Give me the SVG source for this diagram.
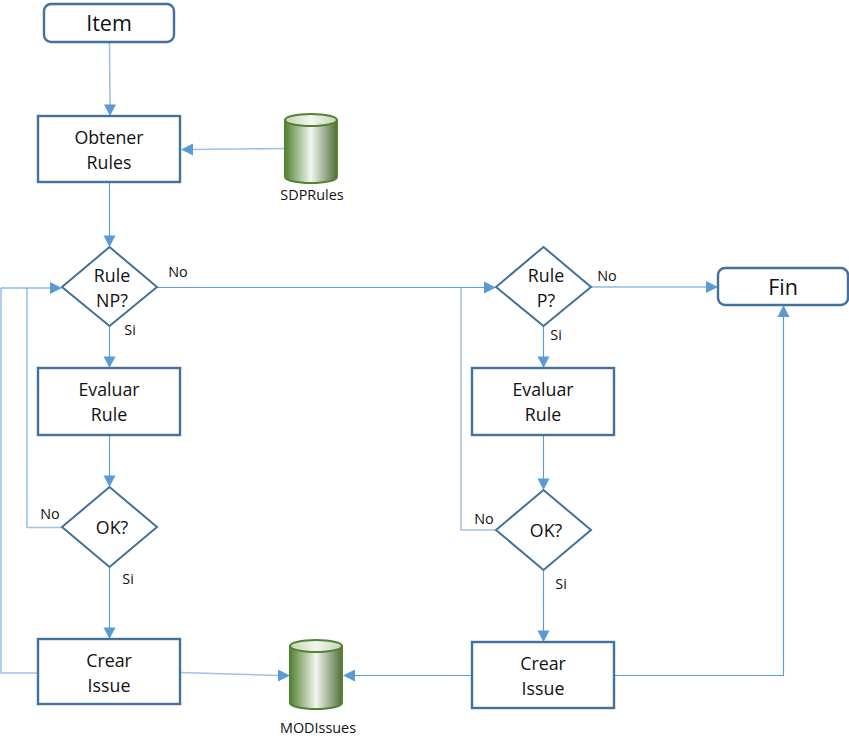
<svg xmlns="http://www.w3.org/2000/svg" width="849" height="749" viewBox="0 0 849 749">
<style>
.n{fill:#fff;stroke:#41719c;stroke-width:2.4}
.d{fill:#fff;stroke:#41719c;stroke-width:2}
.c{fill:url(#g);stroke:#548235;stroke-width:2}
.t{fill:url(#h);stroke:#548235;stroke-width:2}
text{font-family:"Open Sans","Noto Sans","Liberation Sans",sans-serif;fill:#111;text-anchor:middle}
.m{font-size:17.800px}
.b{font-size:21.500px}
.s{font-size:14.400px}
.l{fill:none;stroke:#5b9bd5;stroke-width:1.100}
.k{fill:none;stroke:#9dc3e6;stroke-width:1.600}
.a{fill:#5b9bd5}
</style>
<defs>
<linearGradient id="g" x1="0" x2="1" y1="0" y2="0">
<stop offset="0" stop-color="#548235"/>
<stop offset=".5" stop-color="#f2f6ef"/>
<stop offset="1" stop-color="#4f6f3a"/>
</linearGradient>
<linearGradient id="h" x1="0" x2="1" y1="0" y2="0">
<stop offset="0" stop-color="#c4d4b6"/>
<stop offset=".5" stop-color="#f2f6ef"/>
<stop offset="1" stop-color="#c4d4b6"/>
</linearGradient>
</defs>
<g id="connectors">
<path class="k" d="M109.500 42L110 105"/>
<path class="a" d="M104 104.500H116L110 116Z"/>
<path class="k" d="M285 148.500L191 149.500"/>
<path class="a" d="M181 149.500L193 143.500V155.500Z"/>
<path class="l" d="M109.500 182V236"/>
<path class="a" d="M103.500 235.500H115.500L109.500 247Z"/>
<path class="l" d="M109.500 326V357"/>
<path class="a" d="M103.500 356.500H115.500L109.500 368Z"/>
<path class="l" d="M109.500 435V476"/>
<path class="a" d="M103.500 475.500H115.500L109.500 487Z"/>
<path class="l" d="M109.500 567V628"/>
<path class="a" d="M103.500 627.500H115.500L109.500 639Z"/>
<path class="k" d="M38 673H1V288"/>
<path class="k" d="M62 527.500H27V288"/>
<path class="l" d="M1 288H50"/>
<path class="a" d="M62 288L50 282V294Z"/>
<path class="l" d="M157 287.500H485"/>
<path class="a" d="M496 287.500L484 281.500V293.500Z"/>
<path class="k" d="M461 288V530H496"/>
<path class="l" d="M591 287H707"/>
<path class="a" d="M718 287L706 281V293Z"/>
<path class="l" d="M543.500 326V357"/>
<path class="a" d="M537.500 356.500H549.500L543.500 368Z"/>
<path class="l" d="M543.500 435V479"/>
<path class="a" d="M537.500 478.500H549.500L543.500 490Z"/>
<path class="l" d="M543.500 570V631"/>
<path class="a" d="M537.500 630.500H549.500L543.500 642Z"/>
<path class="k" d="M180 672.500L279 675.500"/>
<path class="a" d="M290 675.500L278 669.500V681.500Z"/>
<path class="l" d="M472 675.500H355"/>
<path class="a" d="M343 675.500L355 669.500V681.500Z"/>
<path class="l" d="M614 675.500H783.500V317"/>
<path class="a" d="M783.500 305L777.500 317H789.500Z"/>
</g>
<g id="item"><rect class="n" x="44" y="4" width="130" height="38" rx="7"/><text class="b" x="109" y="31">Item</text></g>
<g id="obtener"><rect class="n" x="38" y="116" width="142" height="66"/><text class="m" x="109" y="144">Obtener</text><text class="m" x="109" y="169">Rules</text></g>
<g id="sdprules"><path class="c" d="M285 120V177A26 6 0 0 0 337 177V120Z"/><ellipse class="t" cx="311" cy="120" rx="26" ry="6"/><text class="s" x="312" y="200">SDPRules</text></g>
<g id="rule-np"><path class="d" d="M109.500 247L157 287L109.500 326L62 287Z"/><text class="m" x="112" y="282">Rule</text><text class="m" x="112" y="307">NP?</text></g>
<g id="evaluar-1"><rect class="n" x="38" y="368" width="142" height="67"/><text class="m" x="109" y="396">Evaluar</text><text class="m" x="109" y="421">Rule</text></g>
<g id="ok-1"><path class="d" d="M109.500 487L157 527L109.500 567L62 527Z"/><text class="m" x="112" y="534">OK?</text></g>
<g id="crear-1"><rect class="n" x="38" y="639" width="142" height="65"/><text class="m" x="109" y="667">Crear</text><text class="m" x="109" y="692">Issue</text></g>
<g id="modissues"><path class="c" d="M290 646V703A26 6 0 0 0 342 703V646Z"/><ellipse class="t" cx="316" cy="646" rx="26" ry="6"/><text class="s" x="318" y="733">MODIssues</text></g>
<g id="rule-p"><path class="d" d="M543.500 247L591 287L543.500 326L496 287Z"/><text class="m" x="546" y="282">Rule</text><text class="m" x="546" y="307">P?</text></g>
<g id="fin"><rect class="n" x="718" y="268" width="130" height="37" rx="7"/><text class="b" x="783" y="295">Fin</text></g>
<g id="evaluar-2"><rect class="n" x="472" y="368" width="142" height="67"/><text class="m" x="543" y="396">Evaluar</text><text class="m" x="543" y="421">Rule</text></g>
<g id="ok-2"><path class="d" d="M543.500 490L591 530L543.500 570L496 530Z"/><text class="m" x="546" y="537">OK?</text></g>
<g id="crear-2"><rect class="n" x="472" y="642" width="142" height="66"/><text class="m" x="543" y="670">Crear</text><text class="m" x="543" y="695">Issue</text></g>
<g id="labels">
<text class="s" x="178" y="277">No</text>
<text class="s" x="130" y="335">Si</text>
<text class="s" x="50" y="519">No</text>
<text class="s" x="128" y="584">Si</text>
<text class="s" x="607" y="281">No</text>
<text class="s" x="556" y="340">Si</text>
<text class="s" x="484" y="524">No</text>
<text class="s" x="561" y="589">Si</text>
</g>
</svg>
